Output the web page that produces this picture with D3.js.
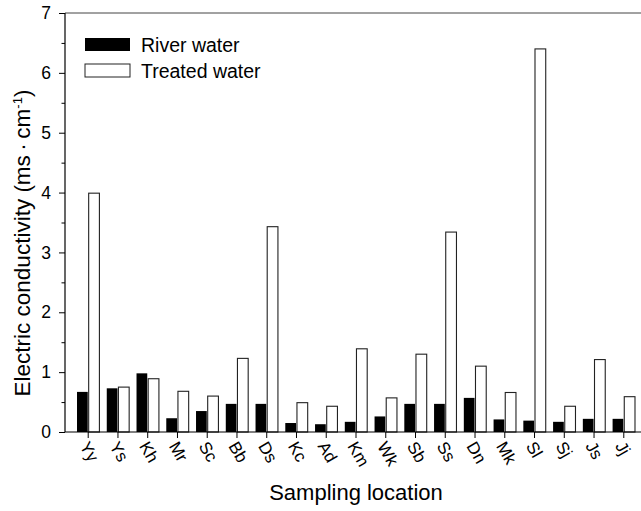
<!DOCTYPE html>
<html lang="en">
<head>
  <meta charset="UTF-8">
  <title>Electric conductivity by sampling location</title>
  <script src="https://d3js.org/d3.v7.min.js"></script>
  <style>
    body {
      margin: 0;
      background: #fff;
      font-family: "Liberation Sans", Arial, sans-serif;
    }
    svg { display: block; }
  </style>
</head>
<body>
  <svg width="641" height="511"></svg>
  <script>
  // Data
  const locations = ["Yy", "Ys", "Kh", "Mr", "Sc", "Bb", "Ds", "Kc", "Ad", "Km",
                     "Wk", "Sb", "Ss", "Dn", "Mk", "Sl", "Sj", "Js", "Jj"];
  const riverWater   = [0.67, 0.73, 0.98, 0.23, 0.35, 0.47, 0.47, 0.15, 0.13, 0.17,
                        0.26, 0.47, 0.47, 0.57, 0.21, 0.19, 0.17, 0.22, 0.22];
  const treatedWater = [3.99, 0.75, 0.89, 0.68, 0.60, 1.23, 3.43, 0.49, 0.43, 1.39,
                        0.57, 1.30, 3.34, 1.10, 0.66, 6.40, 0.43, 1.21, 0.59];
  const seriesNames = ["River water", "Treated water"];
  const yTicks = [0, 1, 2, 3, 4, 5, 6, 7];

  const width = 641, height = 511;
  const plotLeft = 65, plotRight = 647, plotTop = 13, plotBottom = 432;

  const svg = d3.select("svg");

  const x = d3.scaleBand()
              .domain(locations)
              .range([plotLeft, plotRight])
              .paddingInner(0)
              .paddingOuter(0.28);

  const sub = d3.scaleBand()
                .domain(seriesNames)
                .range([-11.2, 11.2])
                .paddingInner(0.08);

  const y = d3.scaleLinear().domain([0, 7]).range([plotBottom, plotTop]);

  // frame line on top
  svg.append("line")
     .attr("x1", plotLeft).attr("x2", width)
     .attr("y1", plotTop).attr("y2", plotTop)
     .attr("stroke", "#444").attr("stroke-width", 1);

  // bars
  const rows = locations.map((loc, i) => ({
    loc: loc,
    values: [{ s: seriesNames[0], v: riverWater[i] }, { s: seriesNames[1], v: treatedWater[i] }]
  }));

  const groups = svg.selectAll("g.loc")
                    .data(rows)
                    .enter()
                    .append("g")
                    .attr("class", "loc")
                    .attr("transform", d => `translate(${x(d.loc) + x.bandwidth() / 2},0)`);

  groups.selectAll("rect")
        .data(d => d.values)
        .enter()
        .append("rect")
        .attr("x", d => sub(d.s))
        .attr("width", sub.bandwidth())
        .attr("y", d => y(d.v))
        .attr("height", d => y(0) - y(d.v))
        .attr("fill", d => d.s === seriesNames[0] ? "#000" : "#fff")
        .attr("stroke", d => d.s === seriesNames[0] ? "none" : "#222")
        .attr("stroke-width", 1.1);

  // y axis with minor ticks
  const yAxis = svg.append("g")
                   .attr("transform", `translate(${plotLeft},0)`)
                   .call(d3.axisLeft(y).tickValues(yTicks).tickSize(6).tickPadding(8).tickFormat(d3.format("d")));
  svg.append("g")
     .attr("transform", `translate(${plotLeft},0)`)
     .call(d3.axisLeft(y).tickValues(d3.range(0.5, 7, 1)).tickSize(3.5).tickFormat(""))
     .select(".domain").remove();
  yAxis.selectAll("text")
       .attr("font-size", 17.5)
       .attr("font-family", "Liberation Sans, Arial, sans-serif")
       .attr("fill", "#000");
  yAxis.select(".domain").attr("d", `M0,${plotBottom}V${plotTop}`);

  // x axis
  const xAxis = svg.append("g")
                   .attr("transform", `translate(0,${plotBottom})`)
                   .call(d3.axisBottom(x).tickSize(6).tickFormat(""));
  xAxis.select(".domain").attr("d", `M${plotLeft},0H${width}`);
  svg.selectAll(".domain").attr("stroke-width", 1.2);

  // rotated category labels
  svg.append("g")
     .selectAll("text")
     .data(locations)
     .enter()
     .append("text")
     .attr("transform", d => `translate(${x(d) + x.bandwidth() / 2 - 9},${plotBottom + 14}) rotate(60)`)
     .attr("text-anchor", "start")
     .attr("font-size", 17)
     .text(d => d);

  // legend
  const legend = svg.append("g").attr("transform", "translate(85,38)");
  seriesNames.forEach((name, i) => {
    const g = legend.append("g").attr("transform", `translate(0,${i * 26})`);
    g.append("rect")
     .attr("width", 45).attr("height", 13)
     .attr("fill", i === 0 ? "#000" : "#fff")
     .attr("stroke", i === 0 ? "none" : "#222")
     .attr("stroke-width", 1);
    g.append("text")
     .attr("x", 56).attr("y", 6.5)
     .attr("dy", "0.36em")
     .attr("font-size", 19.5)
     .text(name);
  });

  // axis titles
  svg.append("text")
     .attr("x", 356).attr("y", 500)
     .attr("text-anchor", "middle")
     .attr("font-size", 22)
     .text("Sampling location");

  const yTitle = svg.append("text")
                    .attr("transform", "translate(30,243) rotate(-90)")
                    .attr("text-anchor", "middle")
                    .attr("font-size", 22.5);
  yTitle.append("tspan").text("Electric conductivity (ms\u2009\u00b7\u2009cm");
  yTitle.append("tspan").attr("dy", -8).attr("font-size", 13).text("-1");
  yTitle.append("tspan").attr("dy", 8).text(")");
  </script>
</body>
</html>
